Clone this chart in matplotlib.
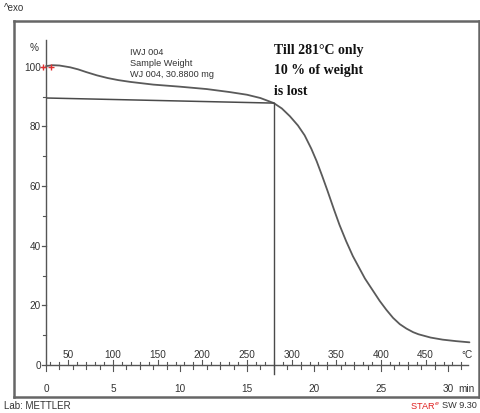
import matplotlib
matplotlib.use("Agg")
import matplotlib.pyplot as plt
import numpy as np

# ---- data ----
time_min = [0.0, 0.5, 1.0, 1.8, 2.4, 3.0, 3.8, 4.6, 5.4, 6.3, 8.0, 10.0, 12.0, 13.7,
            15.0, 16.0, 17.0, 17.6, 18.2, 18.8, 19.3, 19.8, 20.2, 20.6, 21.0, 21.5,
            21.9, 22.4, 22.9, 23.8, 24.9, 25.4, 25.9, 26.4, 26.9, 27.4, 27.8, 28.7,
            29.6, 30.6, 31.6]
weight_pct = [100.2, 100.5, 100.4, 99.8, 99.1, 98.2, 97.1, 96.2, 95.5, 94.9, 94.0, 93.3,
              92.5, 91.5, 90.6, 89.5, 87.8, 86.0, 83.4, 80.3, 77.0, 72.5, 68.3, 63.5,
              58.5, 52.0, 47.0, 41.5, 36.5, 29.0, 21.5, 18.5, 15.8, 13.7, 12.2, 11.0,
              10.3, 9.2, 8.5, 8.0, 7.6]
base_line_t = [0.1, 17.0]
base_line_w = [89.5, 87.8]
marker_t = 17.0
marker_w = [87.8, -3.0]
y_ticks = [0, 20, 40, 60, 80, 100]
y_minor = [10, 30, 50, 70, 90]
time_ticks = [0, 5, 10, 15, 20, 25, 30]
temp_ticks = [50, 100, 150, 200, 250, 300, 350, 400, 450]
heat_rate = 15.0   # K/min
temp_start = 25.0

W, H = 481, 414
fig = plt.figure(figsize=(W / 100, H / 100), dpi=100)
fig.patch.set_facecolor("white")

# frame region in pixels
fl, fr, ft, fb = 14, 479, 22, 398
ax = fig.add_axes([fl / W, 1 - fb / H, (fr - fl) / W, (fb - ft) / H])
px_per_min = 13.4
px_per_pct = 2.983
x0_px, y0_px = 46, 366
ax.set_xlim((fl - x0_px) / px_per_min, (fr - x0_px) / px_per_min)
ax.set_ylim((y0_px - fb) / px_per_pct, (y0_px - ft) / px_per_pct)
ax.set_xticks([]); ax.set_yticks([])
for s in ax.spines.values():
    s.set_color("#666666"); s.set_linewidth(1.8)

dx = 1 / px_per_min   # one pixel in x data units
dy = 1 / px_per_pct   # one pixel in y data units
axc = "#555555"
FONT = "Liberation Sans"
tickfont = dict(family=FONT, fontsize=7.2, color="#333333")

# y axis
ax.plot([0, 0], [0, 109], color=axc, lw=1.0)
for v in y_ticks:
    ax.plot([-4 * dx, 0], [v, v], color=axc, lw=0.9)
    ax.text(-5 * dx, v, str(v), ha="right", va="center", **tickfont)
for v in y_minor:
    ax.plot([-2.5 * dx, 0], [v, v], color=axc, lw=0.8)
ax.text(-12 * dx, 106.5, "%", ha="center", va="center", **tickfont)

# x axis
x_end = 31.5
ax.plot([0, x_end], [0, 0], color=axc, lw=1.0)
for m in range(0, 32):
    ln = 5.5 if m % 5 == 0 else 3.5
    ax.plot([m, m], [0, -ln * dy], color=axc, lw=0.8)
for m in time_ticks:
    ax.text(m, -23 * dy, str(m), ha="center", va="center", **tickfont)
ax.text(x_end - 0.1, -23 * dy, "min", ha="center", va="center", **tickfont)
for T in range(30, 500, 10):
    tt = (T - temp_start) / heat_rate
    if tt > x_end:
        break
    ln = 5 if T % 50 == 0 else 3.0
    ax.plot([tt, tt], [0, ln * dy], color=axc, lw=0.8)
for T in temp_ticks:
    tt = (T - temp_start) / heat_rate
    ax.text(tt, 10.5 * dy, str(T), ha="center", va="center", **tickfont)
ax.text(x_end - 0.1, 10.5 * dy, "°C", ha="center", va="center", **tickfont)

# curves
ax.plot(time_min, weight_pct, color="#5a5a5a", lw=1.3, solid_capstyle="round")
ax.plot(base_line_t, base_line_w, color="#4a4a4a", lw=1.1)
ax.plot([marker_t, marker_t], marker_w, color="#4a4a4a", lw=1.0)
ax.plot([-0.2, 0.35], [100, 100], ls="none", marker="+", color="#e03030", ms=5, mew=1.0)

# annotations
ax.text(6.3, 106.5, "IWJ 004\nSample Weight\nWJ 004, 30.8800 mg", ha="left", va="top",
        family=FONT, fontsize=6.6, color="#333333", linespacing=1.25)
ax.text(17.05, 108.0, "Till 281°C only\n10 % of weight\nis lost", ha="left", va="top",
        family="Liberation Serif", fontweight="bold", fontsize=10, color="#111111",
        linespacing=1.75)

# outer labels
fig.text(4 / W, 1 - 8 / H, "^exo", ha="left", va="center", family=FONT,
         fontsize=7.0, color="#333333")
fig.text(4 / W, 1 - 406 / H, "Lab: METTLER", ha="left", va="center", family=FONT,
         fontsize=7.0, color="#333333")
fig.text(477 / W, 1 - 406 / H, "SW 9.30", ha="right", va="center", family=FONT,
         fontsize=6.6, color="#333333")
fig.text(440 / W, 1 - 406 / H, "STAR$^{e}$", ha="right", va="center", family=FONT,
         fontsize=6.6, color="#e02020")

fig.savefig("out.png", dpi=100)
